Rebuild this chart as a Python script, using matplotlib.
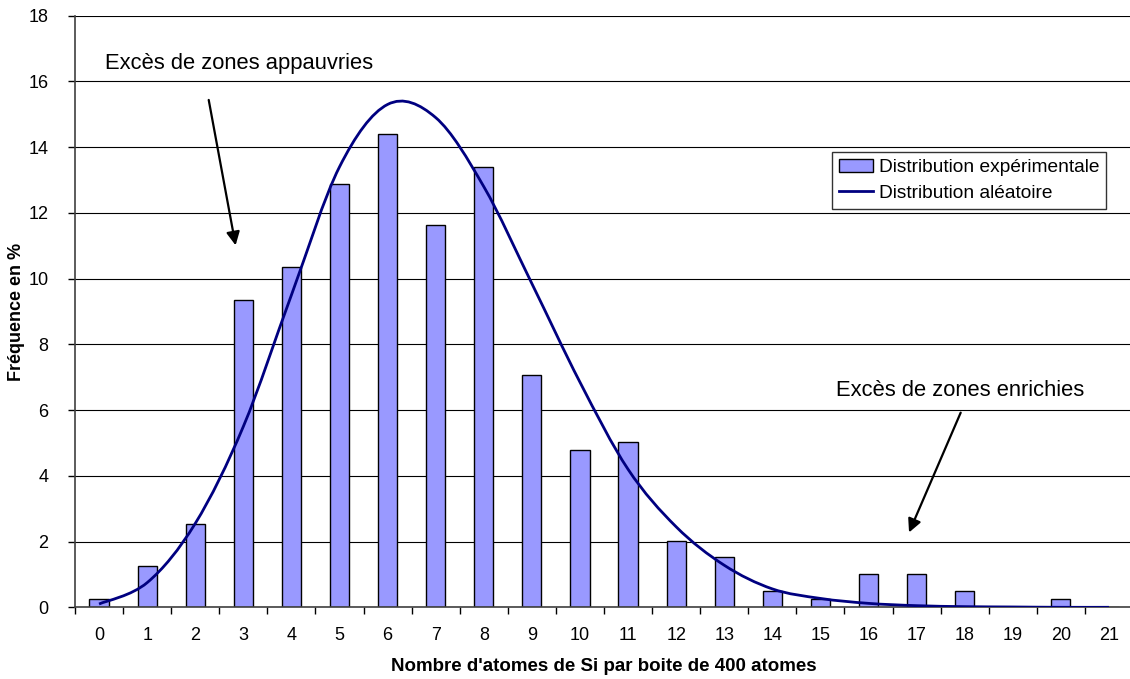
import numpy as np
import matplotlib.pyplot as plt
from matplotlib.path import Path
from matplotlib.patches import PathPatch, Patch
from matplotlib.lines import Line2D

plt.rcParams['font.family'] = ['Liberation Sans', 'DejaVu Sans']

categories = list(range(22))
experimental = [0.25, 1.25, 2.53, 9.34, 10.35, 12.87, 14.41, 11.63, 13.39, 7.08,
                4.79, 5.04, 2.03, 1.52, 0.50, 0.26, 1.0, 1.0, 0.50, 0.0, 0.25, 0.0]
random_dist = [0.10, 0.75, 2.55, 5.5, 9.5, 13.4, 15.3, 14.9, 12.8, 9.85,
               6.85, 4.2, 2.45, 1.28, 0.56, 0.27, 0.12, 0.05, 0.02, 0.01, 0.0, 0.0]

labels = {
    'x': "Nombre d'atomes de Si par boite de 400 atomes",
    'y': 'Fréquence en %',
    'bars': 'Distribution expérimentale',
    'line': 'Distribution aléatoire',
    'left_note': 'Excès de zones appauvries',
    'right_note': 'Excès de zones enrichies',
}


def smooth_path(xs, ys):
    # Bezier segments through the points, like a spreadsheet "smoothed line"
    pts = np.column_stack([xs, ys]).astype(float)
    verts = [pts[0]]
    codes = [Path.MOVETO]
    n = len(pts)
    for i in range(n - 1):
        p0 = pts[max(i - 1, 0)]
        p1 = pts[i]
        p2 = pts[i + 1]
        p3 = pts[min(i + 2, n - 1)]
        c1 = p1 + (p2 - p0) / 6
        c2 = p2 - (p3 - p1) / 6
        verts += [c1, c2, p2]
        codes += [Path.CURVE4] * 3
    return Path(verts, codes)


fig = plt.figure(figsize=(11.3, 6.79), dpi=100)
ax = fig.add_axes([75 / 1130, (679 - 607.3) / 679, 1058 / 1130, 591.6 / 679])

navy = '#000080'
ax.bar(categories, experimental, width=0.4, color='#9999FF', edgecolor='black',
       linewidth=1.0, zorder=2)
ax.add_patch(PathPatch(smooth_path(categories, random_dist), facecolor='none',
                       edgecolor=navy, linewidth=2.0, zorder=3))

ax.set_xlim(-0.5, 21.5)
ax.set_ylim(0, 18)
ax.set_yticks(np.arange(0, 19, 2))
ax.set_xticks(categories)
ax.set_xticklabels([str(c) for c in categories])
ax.set_xticks(np.arange(-0.5, 22, 1), minor=True)
ax.tick_params(axis='x', which='major', length=0, pad=14, labelsize=13)
ax.tick_params(axis='x', which='minor', length=5, width=1, direction='out')
ax.tick_params(axis='y', length=5, width=1, direction='out', labelsize=13, pad=14)
ax.grid(axis='y', color='black', linewidth=0.8, zorder=0)
ax.set_axisbelow(True)
for s in ['top', 'right']:
    ax.spines[s].set_visible(False)
for s in ['left', 'bottom']:
    ax.spines[s].set_color('#404040')
    ax.spines[s].set_linewidth(1.2)

ax.set_xlabel(labels['x'], fontsize=13.5, fontweight='bold')
ax.xaxis.set_label_coords(0.5, -0.086)
ax.set_ylabel(labels['y'], fontsize=13, fontweight='bold')
ax.yaxis.set_label_coords(-0.047, 0.5)

handles = [Patch(facecolor='#9999FF', edgecolor='black', linewidth=1.0),
           Line2D([], [], color=navy, linewidth=2.0)]
leg = ax.legend(handles, [labels['bars'], labels['line']], loc='upper left',
                bbox_to_anchor=(832 / 1130, 1 - 152 / 679), bbox_transform=fig.transFigure,
                fontsize=13.8, frameon=True, fancybox=False, edgecolor='black',
                borderpad=0.35, handlelength=1.8, handletextpad=0.3, labelspacing=0.45,
                borderaxespad=0)
leg.get_frame().set_linewidth(1.0)

ax.text(0.12, 16.56, labels['left_note'], fontsize=15.8, va='center', ha='left')
ax.annotate('', xy=(2.85, 10.93), xytext=(2.27, 15.52),
            arrowprops=dict(arrowstyle='-|>', color='black', lw=1.6, mutation_scale=20))
ax.text(15.32, 6.61, labels['right_note'], fontsize=15.8, va='center', ha='left')
ax.annotate('', xy=(16.82, 2.2), xytext=(17.94, 6.0),
            arrowprops=dict(arrowstyle='-|>', color='black', lw=1.6, mutation_scale=20))

fig.savefig('out.png', dpi=100)
